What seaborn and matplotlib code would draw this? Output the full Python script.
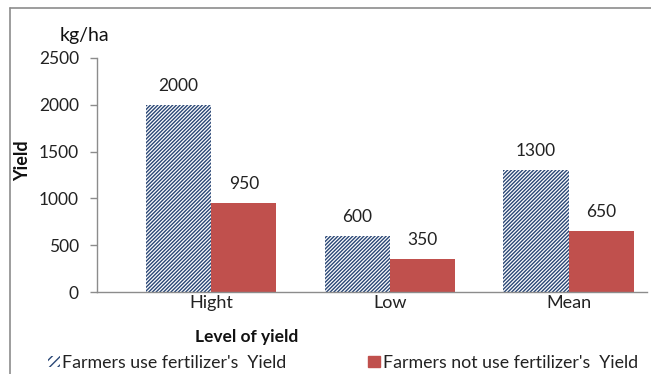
import matplotlib
matplotlib.use("Agg")
import matplotlib.pyplot as plt
import seaborn as sns
import pandas as pd
from matplotlib.patches import Patch
from matplotlib.lines import Line2D

levels = ["Hight", "Low", "Mean"]
with_fertilizer = [2000, 600, 1300]
without_fertilizer = [950, 350, 650]
series_names = ["Farmers use fertilizer's  Yield", "Farmers not use fertilizer's  Yield"]

sns.set_theme(style="white")
plt.rcParams["font.family"] = ["Lato", "DejaVu Sans"]
plt.rcParams["hatch.linewidth"] = 1.0

df = pd.DataFrame({
    "level": levels * 2,
    "yield": with_fertilizer + without_fertilizer,
    "group": [series_names[0]] * 3 + [series_names[1]] * 3,
})

navy = "#2A4776"
red = "#C0504D"
text_color = "#222222"

fig = plt.figure(figsize=(6.51, 3.74), dpi=100)
ax = fig.add_axes([0.149, 0.219, 0.845, 0.626])

sns.barplot(data=df, x="level", y="yield", hue="group", order=levels,
            hue_order=series_names, palette=["white", red], width=0.73,
            linewidth=0, legend=False, ax=ax)

n = len(levels)
for i, bar in enumerate(ax.patches[:2 * n]):
    if i < n:
        bar.set_facecolor("white")
        bar.set_edgecolor(navy)
        bar.set_hatch("/////////")
        bar.set_linewidth(0)
    else:
        bar.set_facecolor(red)
        bar.set_edgecolor(red)

for container in ax.containers:
    ax.bar_label(container, fmt="%d", padding=8, fontsize=12.5, color=text_color)

ax.set_ylim(0, 2500)
ax.set_yticks([0, 500, 1000, 1500, 2000, 2500])
ax.set_xlim(-0.64, 2.44)
for side in ["top", "right"]:
    ax.spines[side].set_visible(False)
for side in ["left", "bottom"]:
    ax.spines[side].set_color("#8C8C8C")
    ax.spines[side].set_linewidth(1)
ax.tick_params(axis="y", which="major", left=True, length=5, width=1,
               color="#8C8C8C", pad=8, labelsize=12.5, labelcolor=text_color)
ax.tick_params(axis="x", bottom=False, labelsize=13, labelcolor=text_color, pad=-4)

ax.set_xlabel("")
ax.set_ylabel("")
fig.text(0.379, 0.100, "Level of yield", ha="center", va="center",
         fontsize=12.5, fontweight="bold", color="#111111")
fig.text(0.034, 0.57, "Yield", ha="center", va="center", rotation=90,
         fontsize=13, fontweight="bold", color="#111111")
fig.text(0.129, 0.904, "kg/ha", ha="center", va="center", fontsize=14,
         color="#111111")

handles = [
    Patch(facecolor="white", edgecolor=navy, hatch="////", linewidth=0),
    Patch(facecolor=red, edgecolor=red),
]
fig.legend(handles, series_names, loc="center left", bbox_to_anchor=(0.074, 0.030),
           ncol=2, frameon=False, fontsize=12.8, handlelength=0.65, handleheight=0.65,
           handletextpad=0.15, columnspacing=4.6, borderpad=0, borderaxespad=0,
           labelcolor=text_color)

# outer chart frame
fig.add_artist(Line2D([0.0155, 0.0155], [0.0, 0.979], transform=fig.transFigure,
                      color="#8C8C8C", linewidth=1.2))
fig.add_artist(Line2D([0.0155, 1.0], [0.979, 0.979], transform=fig.transFigure,
                      color="#8C8C8C", linewidth=1.2))

fig.savefig("out.png", dpi=100)
